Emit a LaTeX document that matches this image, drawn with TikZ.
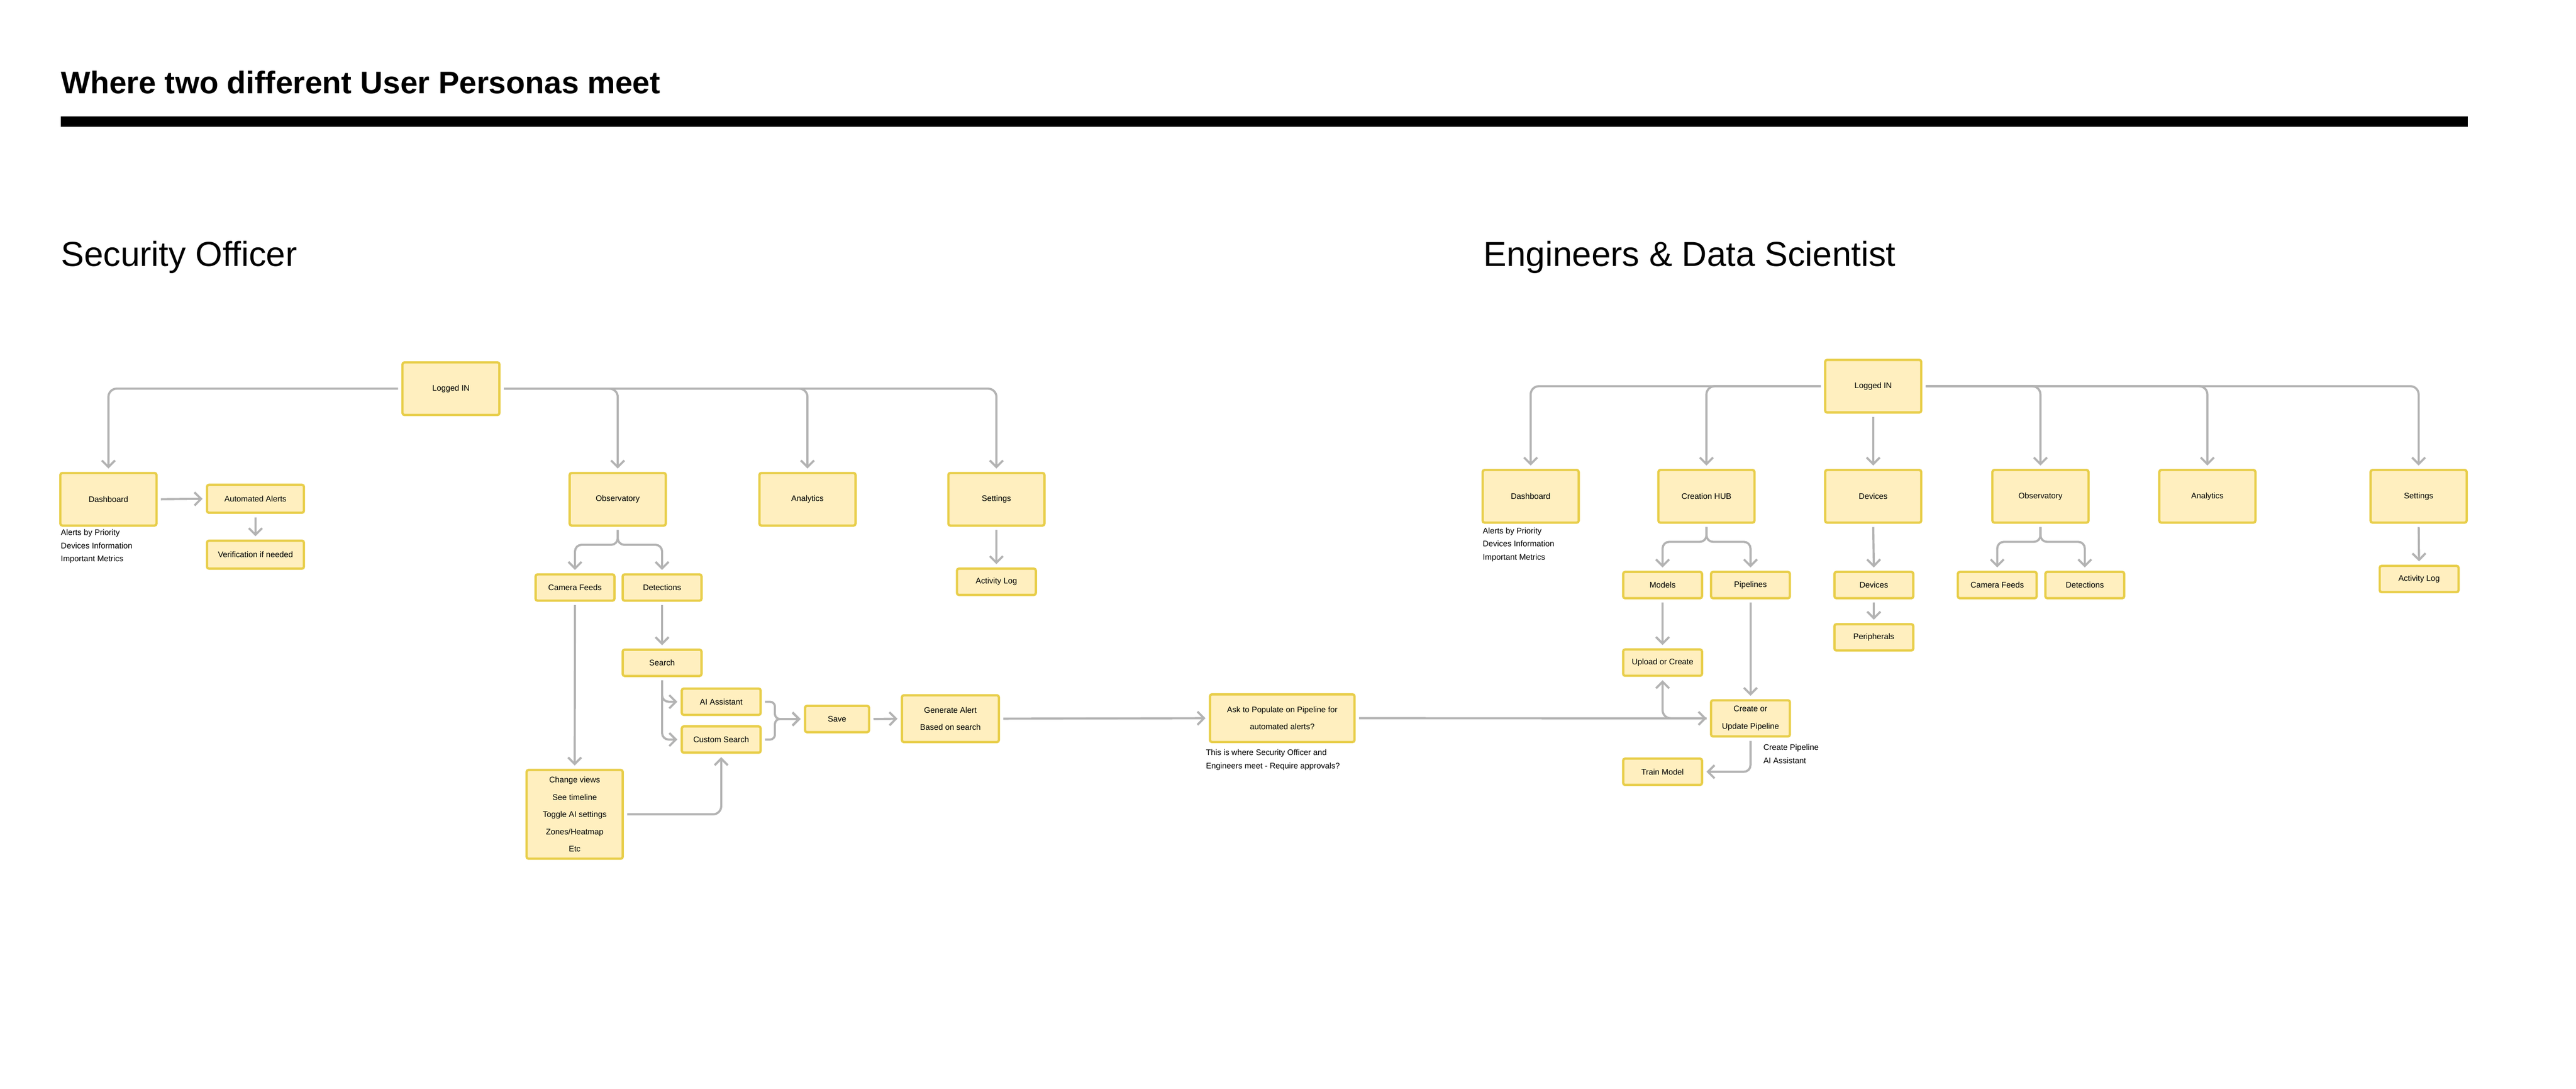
\documentclass[tikz,border=0pt]{standalone}
\usepackage{fontspec}
\setmainfont{Liberation Sans}
\usetikzlibrary{arrows.meta}
\definecolor{bfill}{HTML}{FFEFBF}
\definecolor{bdraw}{HTML}{E8CE4A}
\definecolor{lgray}{HTML}{B3B3B3}
\begin{document}
\begin{tikzpicture}[x=1mm,y=-1mm,
  box/.style={draw=bdraw,fill=bfill,line width=1.4mm,rounded corners=1.2mm,align=center,font=\fontsize{14}{30}\selectfont,inner sep=0pt},
  conn/.style={draw=lgray,line width=1.3mm,rounded corners=5mm,-{Straight Barb[length=4mm,width=8mm,line width=1.3mm]},shorten >=2mm,shorten <=2mm},
  line/.style={draw=lgray,line width=1.3mm,rounded corners=5mm,shorten <=2mm},
  note/.style={anchor=north west,align=left,inner sep=0pt,font=\fontsize{14}{23}\selectfont}]
\useasboundingbox (0,0) rectangle (1568,662.5);
\node[anchor=base west,inner sep=0pt,font=\bfseries\fontsize{54}{60}\selectfont] (title) at (37,57) {Where two different User Personas meet};
\fill (37,71) rectangle (1502,77);
\node[anchor=base west,inner sep=0pt,font=\fontsize{60}{66}\selectfont] (h1) at (37,162) {Security Officer};
\node[anchor=base west,inner sep=0pt,font=\fontsize{60}{66}\selectfont] (h2) at (903,162) {Engineers \& Data Scientist};
% left
\node[box,minimum width=59mm,minimum height=32mm] (L) at (274.5,236.5) {Logged IN};
\node[box,minimum width=58.5mm,minimum height=32mm] (D) at (66,303.8) {Dashboard};
\node[box,minimum width=59mm,minimum height=17mm] (AA) at (155.5,303.5) {Automated Alerts};
\node[box,minimum width=59mm,minimum height=17mm] (V) at (155.5,337.5) {Verification if needed};
\node[note] (dn) at (37,322) {Alerts by Priority\\Devices Information\\Important Metrics};
\node[box,minimum width=58.5mm,minimum height=32mm] (O) at (376,303.8) {Observatory};
\node[box,minimum width=58.5mm,minimum height=32mm] (A) at (491.5,303.8) {Analytics};
\node[box,minimum width=58.5mm,minimum height=32mm] (S) at (606.5,303.8) {Settings};
\node[box,minimum width=48mm,minimum height=16mm] (AL) at (606.5,354) {Activity Log};
\node[box,minimum width=48mm,minimum height=16mm] (CF) at (350,357.5) {Camera Feeds};
\node[box,minimum width=48mm,minimum height=16mm] (DT) at (403,357.5) {Detections};
\node[box,minimum width=48mm,minimum height=16mm] (SE) at (403,403.3) {Search};
\node[box,minimum width=48mm,minimum height=16mm] (AI) at (439,427) {AI Assistant};
\node[box,minimum width=48mm,minimum height=16mm] (CS) at (439,450) {Custom Search};
\node[box,minimum width=39mm,minimum height=16mm] (SV) at (509.5,437.5) {Save};
\node[box,minimum width=59mm,minimum height=28.5mm] (G) at (578.5,437.3) {Generate Alert\\Based on search};
\node[box,minimum width=58.5mm,minimum height=54mm] (CV) at (349.8,495.5) {Change views\\See timeline\\Toggle AI settings\\Zones/Heatmap\\Etc};
\draw[conn] (L.west) -| (D.north);
\draw[conn] (L.east) -| (S.north);
\draw[conn] (L.east) -| (O.north);
\draw[conn] (L.east) -| (A.north);
\draw[conn] (D.east) -- (AA.west);
\draw[conn] (AA.south) -- (V.north);
\draw[conn] (S.south) -- (AL.north);
\draw[conn,rounded corners=4mm] (O.south) -- ++(0,11) -| (CF.north);
\draw[conn,rounded corners=4mm] (O.south) -- ++(0,11) -| (DT.north);
\draw[conn] (CF.south) -- (CV.north);
\draw[conn] (DT.south) -- (SE.north);
\draw[conn,rounded corners=4mm] (SE.south) |- (AI.west);
\draw[conn,rounded corners=4mm] (SE.south) |- (CS.west);
\draw[conn,rounded corners=3mm] (AI.east) -- ++(8,0) |- (SV.west);
\draw[conn,rounded corners=3mm] (CS.east) -- ++(8,0) |- (SV.west);
\draw[conn] (SV.east) -- (G.west);
\draw[conn] (CV.east) -| (CS.south);
% right
\node[box,minimum width=58.5mm,minimum height=32mm] (L2) at (1140.2,235) {Logged IN};
\node[box,minimum width=58.5mm,minimum height=32mm] (D2) at (931.7,302) {Dashboard};
\node[note] (dn2) at (902.5,321) {Alerts by Priority\\Devices Information\\Important Metrics};
\node[box,minimum width=58.5mm,minimum height=32mm] (CH) at (1038.7,302) {Creation HUB};
\node[box,minimum width=58.5mm,minimum height=32mm] (DV) at (1140.2,302) {Devices};
\node[box,minimum width=58.5mm,minimum height=32mm] (O2) at (1242,302) {Observatory};
\node[box,minimum width=58.5mm,minimum height=32mm] (A2) at (1343.6,302) {Analytics};
\node[box,minimum width=58.5mm,minimum height=32mm] (S2) at (1472.2,302) {Settings};
\node[box,minimum width=48mm,minimum height=16mm] (MO) at (1012,356) {Models};
\node[box,minimum width=48mm,minimum height=16mm] (PI) at (1065.5,356) {Pipelines};
\node[box,minimum width=48mm,minimum height=16mm] (DV2) at (1140.6,356) {Devices};
\node[box,minimum width=48mm,minimum height=16mm] (CF2) at (1215.7,356) {Camera Feeds};
\node[box,minimum width=48mm,minimum height=16mm] (DT2) at (1269,356) {Detections};
\node[box,minimum width=48mm,minimum height=16mm] (AL2) at (1472.5,352.3) {Activity Log};
\node[box,minimum width=48mm,minimum height=16mm] (PE) at (1140.6,387.8) {Peripherals};
\node[box,minimum width=48mm,minimum height=16mm] (UC) at (1012,403.2) {Upload or Create};
\node[box,minimum width=48mm,minimum height=22mm] (CU) at (1065.5,437.1) {Create or\\Update Pipeline};
\node[box,minimum width=48mm,minimum height=16mm] (TM) at (1012,469.6) {Train Model};
\node[box,minimum width=88mm,minimum height=29mm] (ASK) at (780.5,437) {Ask to Populate on Pipeline for\\automated alerts?};
\node[note] (an) at (734,456) {This is where Security Officer and\\Engineers meet - Require approvals?};
\node[note] (cn) at (1073.3,452.8) {Create Pipeline\\AI Assistant};
\draw[conn] (L2.west) -| (D2.north);
\draw[conn] (L2.west) -| (CH.north);
\draw[conn] (L2.south) -- (DV.north);
\draw[conn] (L2.east) -| (S2.north);
\draw[conn] (L2.east) -| (O2.north);
\draw[conn] (L2.east) -| (A2.north);
\draw[conn,rounded corners=4mm] (CH.south) -- ++(0,11) -| (MO.north);
\draw[conn,rounded corners=4mm] (CH.south) -- ++(0,11) -| (PI.north);
\draw[conn,rounded corners=4mm] (O2.south) -- ++(0,11) -| (CF2.north);
\draw[conn,rounded corners=4mm] (O2.south) -- ++(0,11) -| (DT2.north);
\draw[conn] (DV.south) -- (DV2.north);
\draw[conn] (DV2.south) -- (PE.north);
\draw[conn] (S2.south) -- (AL2.north);
\draw[conn] (MO.south) -- (UC.north);
\draw[conn] (PI.south) -- (CU.north);
\draw[conn] (G.east) -- (ASK.west);
\draw[conn] (ASK.east) -- (CU.west);
\draw[conn] (CU.west) -| (UC.south);
\draw[conn,rounded corners=4mm] (CU.south) |- (TM.east);
\end{tikzpicture}
\end{document}
